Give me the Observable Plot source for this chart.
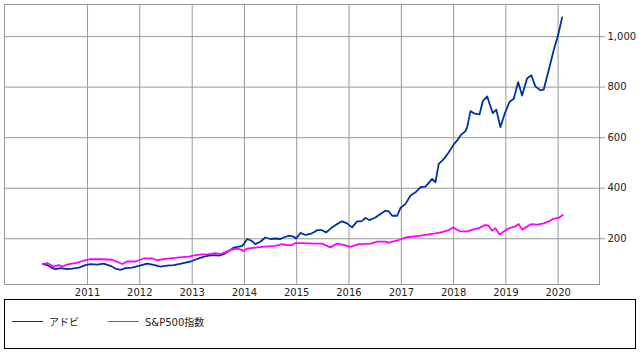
<!DOCTYPE html>
<html>
<head>
<meta charset="utf-8">
<script src="https://cdn.jsdelivr.net/npm/d3@7"></script>
<script src="https://cdn.jsdelivr.net/npm/@observablehq/plot@0.6"></script>
<style>
  html, body { margin: 0; padding: 0; background: #fff; }
  #wrap { position: relative; width: 641px; height: 355px; font-family: "DejaVu Sans", "Noto Sans CJK JP", sans-serif; }
  #legend { position: absolute; left: 4px; top: 299px; width: 632px; height: 50px; border: 1px solid #000; box-sizing: border-box; }
  .item { position: absolute; top: 14px; display: flex; align-items: center; font-size: 10px; color: #222; }
  .sw { width: 31px; height: 0; border-top: 1.5px solid; margin-right: 6px; }
</style>
</head>
<body>
<div id="wrap"><div id="chart"></div><div id="legend"></div></div>
<script>
const seriesNames = ["アドビ", "S&P500指数"];
const seriesColors = ["#003399", "#ff00ff"];

const adobeDates = ["2010-02-22","2010-03-25","2010-04-24","2010-05-22","2010-06-26","2010-08-12","2010-09-16","2010-11-01","2010-12-17",
"2011-01-22","2011-03-09","2011-04-24","2011-06-10","2011-07-15","2011-08-19","2011-09-23","2011-11-08","2011-12-25",
"2012-02-21","2012-04-08","2012-05-25","2012-07-10","2012-08-26","2012-09-29","2012-11-08","2012-12-20",
"2013-01-13","2013-02-17","2013-03-24","2013-04-28","2013-06-01","2013-07-06","2013-08-10","2013-09-14","2013-10-19","2013-11-23","2013-12-16","2013-12-27",
"2014-01-20","2014-02-19","2014-03-18","2014-04-22","2014-05-27","2014-07-01","2014-08-05","2014-09-09","2014-10-02","2014-11-06","2014-12-11","2014-12-28",
"2015-01-27","2015-03-03","2015-04-07","2015-05-07","2015-05-23","2015-06-27","2015-07-25","2015-09-05","2015-10-10","2015-11-14","2015-12-19",
"2016-01-23","2016-02-27","2016-03-28","2016-04-25","2016-05-23","2016-07-04","2016-08-08","2016-09-12","2016-10-05","2016-10-29","2016-12-03","2016-12-26",
"2017-01-30","2017-03-06","2017-04-10","2017-05-15","2017-06-19","2017-08-04","2017-08-27","2017-09-19","2017-10-13","2017-10-31","2017-11-26",
"2018-01-02","2018-01-26","2018-02-18","2018-03-25","2018-04-06","2018-04-29","2018-05-29","2018-07-01","2018-07-24","2018-08-24","2018-09-09","2018-10-02","2018-10-26","2018-11-24","2018-12-24",
"2019-01-26","2019-02-25","2019-03-28","2019-04-24","2019-05-29","2019-06-28","2019-07-26","2019-08-30","2019-09-22","2019-10-27","2019-12-01",
"2020-01-01","2020-01-29"];
const adobeValues = [100,96,86,80,84,80,82,86,96,
100,98,102,93,82,77,84,86,93,
102,97,90,94,96,100,105,110,
115,122,129,133,135,133,139,152,165,169,172,179,
199,192,179,188,205,199,201,199,205,212,208,201,
223,215,219,228,234,234,225,245,258,269,261,
245,269,269,282,274,284,298,311,308,291,291,322,
338,371,384,404,406,437,423,496,509,520,540,
573,589,609,626,642,705,695,692,745,763,734,697,711,642,695,
741,754,820,767,834,847,803,787,790,867,946,
1006,1076];

const spDates = ["2010-02-22","2010-03-25","2010-05-10","2010-06-14","2010-07-08","2010-08-23","2010-10-09","2010-12-05",
"2011-01-22","2011-04-13","2011-06-22","2011-08-07","2011-08-31","2011-10-05","2011-12-02",
"2012-01-29","2012-03-29","2012-05-02","2012-06-17","2012-08-14","2012-10-06","2012-12-08",
"2013-01-25","2013-03-12","2013-04-28","2013-06-13","2013-07-17","2013-08-21","2013-09-25","2013-11-11","2013-12-12","2013-12-27",
"2014-01-20","2014-03-18","2014-05-27","2014-08-05","2014-09-21","2014-10-26","2014-11-30","2014-12-22",
"2015-02-08","2015-05-07","2015-06-27","2015-08-24","2015-10-10","2015-11-25",
"2016-01-11","2016-03-09","2016-05-31","2016-07-16","2016-09-12","2016-10-05","2016-12-14",
"2017-01-30","2017-05-03","2017-08-04","2017-08-27","2017-10-13","2017-11-28","2017-12-26",
"2018-02-18","2018-04-06","2018-05-22","2018-06-26","2018-08-07","2018-08-30","2018-09-27","2018-10-20","2018-11-19","2018-12-17",
"2019-01-26","2019-03-04","2019-04-01","2019-04-24","2019-05-29","2019-06-28","2019-08-07","2019-09-22","2019-10-27","2019-12-01",
"2020-01-10","2020-02-02"];
const spValues = [100,104,90,96,90,100,104,113,
119,119,117,106,100,110,110,
122,122,115,119,123,126,129,
135,138,139,143,139,146,156,161,156,152,
161,165,169,172,179,175,175,183,
183,181,181,166,181,176,
168,179,181,189,189,185,195,
205,211,219,221,226,234,245,
229,229,237,242,254,253,232,242,216,229,
242,248,258,236,248,258,256,261,269,279,
284,294];

const yearTicks = [2011,2012,2013,2014,2015,2016,2017,2018,2019,2020];
const valueTicks = [200,400,600,800,1000];

const rows = [
  ...adobeDates.map((d, i) => ({date: new Date(d), value: adobeValues[i], s: seriesNames[0]})),
  ...spDates.map((d, i) => ({date: new Date(d), value: spValues[i], s: seriesNames[1]}))
];
const xTickDates = yearTicks.map(y => new Date(Date.UTC(y, 0, 1)));

const chart = Plot.plot({
  width: 641,
  height: 300,
  marginLeft: 4,
  marginRight: 42,
  marginTop: 4,
  marginBottom: 16,
  style: {fontFamily: '"DejaVu Sans", "Noto Sans CJK JP", sans-serif', fontSize: "10px", color: "#222", background: "#fff"},
  x: {type: "utc", domain: [new Date("2009-05-31"), new Date("2020-10-16")]},
  y: {domain: [19, 1127]},
  color: {domain: seriesNames, range: seriesColors},
  marks: [
    Plot.gridX(xTickDates, {stroke: "#999", strokeOpacity: 1}),
    Plot.gridY(valueTicks, {stroke: "#999", strokeOpacity: 1}),
    Plot.frame({stroke: "#999"}),
    Plot.axisX(xTickDates, {tickSize: 0, tickPadding: 4, tickFormat: d3.utcFormat("%Y"), label: null}),
    Plot.axisY(valueTicks, {anchor: "right", tickSize: 5, tickPadding: 3, stroke: "#999", tickFormat: d3.format(","), label: null}),
    Plot.line(rows, {x: "date", y: "value", z: "s", stroke: "s", strokeWidth: 1.8})
  ]
});
document.getElementById("chart").appendChild(chart);

const legend = document.getElementById("legend");
const lefts = [7, 103];
seriesNames.forEach((name, i) => {
  const it = document.createElement("div");
  it.className = "item";
  it.style.left = lefts[i] + "px";
  const sw = document.createElement("span");
  sw.className = "sw";
  sw.style.borderTopColor = seriesColors[i];
  const tx = document.createElement("span");
  tx.textContent = name;
  it.appendChild(sw);
  it.appendChild(tx);
  legend.appendChild(it);
});
</script>
</body>
</html>
